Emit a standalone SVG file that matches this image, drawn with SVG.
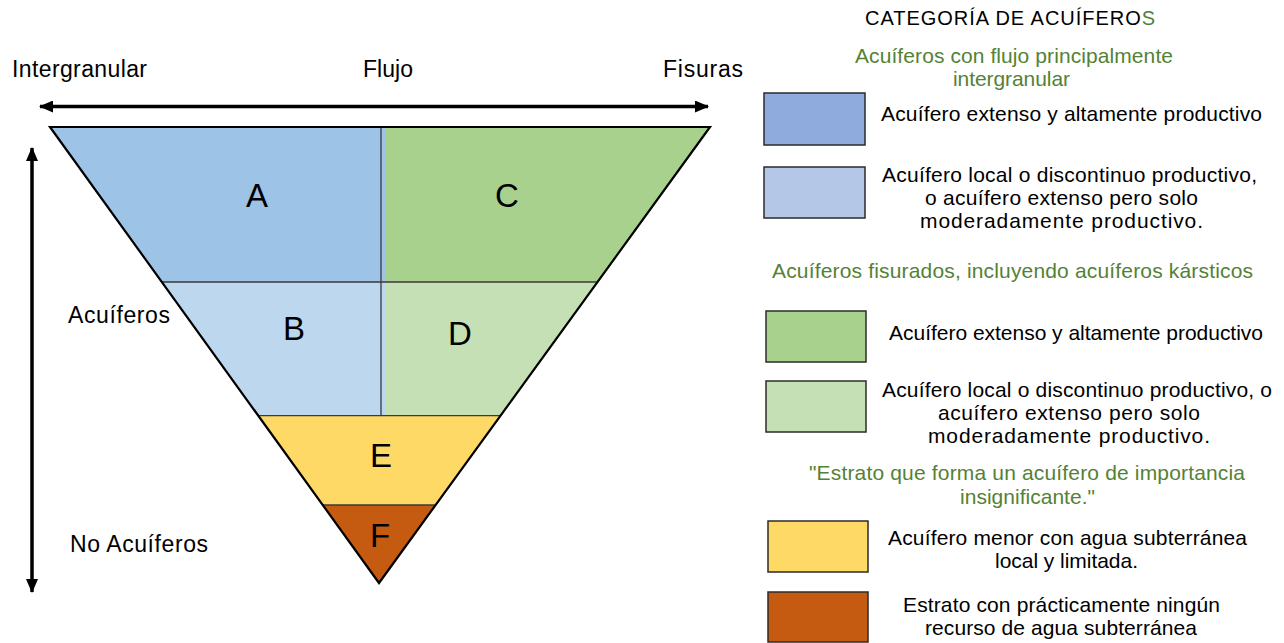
<svg xmlns="http://www.w3.org/2000/svg" width="1284" height="643" viewBox="0 0 1284 643">
<style>
text{font-family:"Liberation Sans",Arial,sans-serif;fill:#000}
.lbl{font-size:23px}
.let{font-size:33px;text-anchor:middle}
.lg{font-size:21px}
.gr{font-size:21px;fill:#548235}
.ttl{font-size:20px}
.inner{stroke:#3a3a3a;stroke-width:1.3;fill:none}
.box{stroke:#2b2b2b;stroke-width:1.5}
.arrow{stroke:#000;stroke-width:3.5;fill:none}
</style>
<defs>
<marker id="ah" markerUnits="userSpaceOnUse" markerWidth="14" markerHeight="12" refX="13" refY="6" orient="auto-start-reverse">
<path d="M0,0 L14,6 L0,12 Z" fill="#000"/>
</marker>
</defs>
<rect width="1284" height="643" fill="#fff"/>

<g id="region-A"><polygon points="50,127 385,127 385,282 162,282" fill="#9DC3E6"/><text class="let" x="257" y="207">A</text></g>
<g id="region-C"><polygon points="385,127 710,127 597.5,282 385,282" fill="#A9D18E"/><text class="let" x="507" y="207">C</text></g>
<g id="region-B"><polygon points="162,282 385,282 385,415.7 258.3,415.7" fill="#BDD7EE"/><text class="let" x="294" y="340">B</text></g>
<g id="region-D"><polygon points="385,282 597.5,282 500.4,415.7 385,415.7" fill="#C5E0B4"/><text class="let" x="460" y="345">D</text></g>
<g id="region-E"><polygon points="258.3,415.7 500.4,415.7 435.6,505 322.7,505" fill="#FFD966"/><text class="let" x="381" y="467">E</text></g>
<g id="region-F"><polygon points="322.7,505 435.6,505 379,583" fill="#C55A11"/><text class="let" x="380" y="547">F</text></g>

<g id="triangle-lines">
<line class="inner" x1="162" y1="282" x2="597.5" y2="282"/>
<line class="inner" x1="258.3" y1="415.7" x2="500.4" y2="415.7"/>
<line class="inner" x1="322.7" y1="505" x2="435.6" y2="505"/>
<line class="inner" x1="381" y1="127" x2="381" y2="415.7"/>
<polygon points="50,127 710,127 379,583" fill="none" stroke="#000" stroke-width="2.2" stroke-linejoin="miter"/>
</g>

<g id="connectors">
<line class="arrow" x1="40" y1="106.5" x2="708" y2="106.5" marker-start="url(#ah)" marker-end="url(#ah)"/>
<line class="arrow" x1="32" y1="148" x2="32" y2="592" marker-start="url(#ah)" marker-end="url(#ah)"/>
</g>

<g id="axis-labels">
<text class="lbl" x="12" y="77" textLength="135" lengthAdjust="spacing">Intergranular</text>
<text class="lbl" x="363" y="77" textLength="50" lengthAdjust="spacing">Flujo</text>
<text class="lbl" x="663" y="77" textLength="80" lengthAdjust="spacing">Fisuras</text>
<text class="lbl" x="68" y="323" textLength="102" lengthAdjust="spacing">Acuíferos</text>
<text class="lbl" x="70" y="552" textLength="138" lengthAdjust="spacing">No Acuíferos</text>
</g>

<g id="legend-title">
<text class="ttl" x="865" y="25" textLength="290" lengthAdjust="spacing">CATEGORÍA DE ACUÍFERO<tspan fill="#548235">S</tspan></text>
</g>
<g id="legend-head-1">
<text class="gr" x="855" y="63" textLength="318" lengthAdjust="spacing">Acuíferos con flujo principalmente</text>
<text class="gr" x="953" y="86" textLength="117" lengthAdjust="spacing">intergranular</text>
</g>
<g id="legend-1">
<rect class="box" x="764" y="93" width="101" height="52" fill="#8FAADC"/>
<text class="lg" x="881" y="121" textLength="381" lengthAdjust="spacing">Acuífero extenso y altamente productivo</text>
</g>
<g id="legend-2">
<rect class="box" x="764" y="167" width="101" height="51" fill="#B4C7E7"/>
<text class="lg" x="882" y="182" textLength="375" lengthAdjust="spacing">Acuífero local o discontinuo productivo,</text>
<text class="lg" x="925" y="205" textLength="273" lengthAdjust="spacing">o acuífero extenso pero solo</text>
<text class="lg" x="920" y="228" textLength="283" lengthAdjust="spacing">moderadamente productivo.</text>
</g>
<g id="legend-head-2">
<text class="gr" x="772" y="278" textLength="481" lengthAdjust="spacing">Acuíferos fisurados, incluyendo acuíferos kársticos</text>
</g>
<g id="legend-3">
<rect class="box" x="766" y="311" width="100" height="51" fill="#A9D18E"/>
<text class="lg" x="889" y="340" textLength="374" lengthAdjust="spacing">Acuífero extenso y altamente productivo</text>
</g>
<g id="legend-4">
<rect class="box" x="766" y="381" width="100" height="51" fill="#C5E0B4"/>
<text class="lg" x="882" y="397" textLength="390" lengthAdjust="spacing">Acuífero local o discontinuo productivo, o</text>
<text class="lg" x="938" y="420" textLength="262" lengthAdjust="spacing">acuífero extenso pero solo</text>
<text class="lg" x="928" y="443" textLength="282" lengthAdjust="spacing">moderadamente productivo.</text>
</g>
<g id="legend-head-3">
<text class="gr" x="809" y="480" textLength="436" lengthAdjust="spacing">"Estrato que forma un acuífero de importancia</text>
<text class="gr" x="960" y="504" textLength="135" lengthAdjust="spacing">insignificante."</text>
</g>
<g id="legend-5">
<rect class="box" x="768" y="521" width="100" height="51" fill="#FFD966"/>
<text class="lg" x="888" y="545" textLength="359" lengthAdjust="spacing">Acuífero menor con agua subterránea</text>
<text class="lg" x="995" y="568" textLength="143" lengthAdjust="spacing">local y limitada.</text>
</g>
<g id="legend-6">
<rect class="box" x="768" y="592" width="100" height="50" fill="#C55A11"/>
<text class="lg" x="903" y="612" textLength="317" lengthAdjust="spacing">Estrato con prácticamente ningún</text>
<text class="lg" x="925" y="635" textLength="272" lengthAdjust="spacing">recurso de agua subterránea</text>
</g>
</svg>
